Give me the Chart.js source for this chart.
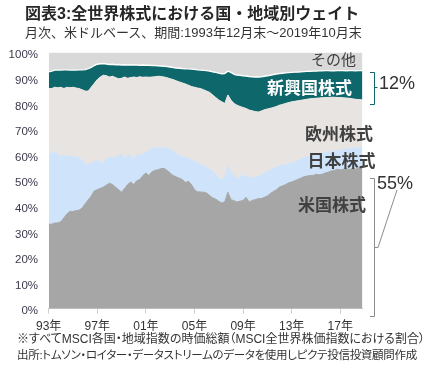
<!DOCTYPE html>
<html><head><meta charset="utf-8">
<script src="https://cdn.jsdelivr.net/npm/chart.js@4"></script>
<style>
html,body{margin:0;padding:0;background:#fff;}
#wrap{position:relative;width:437px;height:379px;overflow:hidden;font-family:"Liberation Sans","Noto Sans CJK JP",sans-serif;color:#333;}
canvas{position:absolute;left:0;top:0;}
.t{position:absolute;white-space:nowrap;}
#title{left:25px;top:6px;font-size:16px;line-height:16px;font-weight:bold;color:#262626;}
#sub{left:25px;top:26px;font-size:13px;line-height:14px;color:#333;}
.note{left:17px;font-size:12px;line-height:12px;font-feature-settings:"palt";color:#333;}
</style></head><body>
<div id="wrap">
<canvas id="c" width="437" height="379"></canvas>
<div class="t" id="title">図表3:全世界株式における国・地域別ウェイト</div>
<div class="t" id="sub">月次、米ドルベース、期間:1993年12月末～2019年10月末</div>
<div class="t note" style="top:333px">※すべてMSCI各国・地域指数の時価総額（MSCI全世界株価指数における割合）</div>
<div class="t note" style="top:349px;font-size:11.5px;letter-spacing:-0.3px">出所:トムソン・ロイター・データストリームのデータを使用しピクテ投信投資顧問作成</div>
</div>
<script>
// months since Dec 1993
const months = [0,3,6,9,12,15,18,21,24,27,30,33,36,39,42,45,48,51,54,57,60,63,66,69,72,75,78,81,84,87,90,93,96,99,102,105,108,111,114,117,120,123,126,129,132,135,138,141,144,147,150,153,156,159,162,165,168,171,174,177,180,183,186,189,192,195,198,201,204,207,210,213,216,219,222,225,228,231,234,237,240,243,246,249,252,255,258,261,264,267,270,273,276,279,282,285,288,291,294,297,300,303,306,309,310];
const seriesNames = ['米国株式','日本株式','欧州株式','新興国株式','その他'];
const usShare = [33,33,33.5,33.5,34,35.5,37,38,38,38.3,38.5,39.3,41,42.5,44,46,46.5,47,47.5,48.3,49,48.5,47.5,46.5,45.5,47,48.5,49.5,48.5,50,50.5,52,53,52,53.5,54,54.3,54.7,54.8,54,53,52,51.5,51,50.5,49.3,49.8,48.5,46.5,45.7,45.6,45.5,45.2,44.2,43.3,42.8,42,41.3,41.8,45.5,42.6,42.2,41.7,42,42.3,43.5,41.7,42.3,42.6,43,43,43.5,44,45,45.8,46.5,47.5,48,48.5,49.2,49.5,50,50.5,51,51.5,51.8,52,52,52.5,52.3,52.5,53,53.3,53.8,54,54.5,54.2,54.5,54.8,54.3,55,54.5,55,55.3,55.5];
const jpShare = [27,28,28,26.5,25.5,24.5,22.5,21.5,21.5,20.7,20.5,18.7,15.5,13.7,13,11.5,11.3,10.5,9.3,10.2,10,10.5,11.8,13,15,11.5,11.5,10,10,10,9.5,8.3,8,9.8,9,8.7,8.7,7.8,8.2,8.7,9.3,9.5,9,8.8,8.8,9.7,8.9,9.5,11,11.1,10.7,10.3,10,10.1,10.5,9.7,9,9.2,9.7,10.3,10.4,10,9.1,9.5,10,8,9.3,9.2,8.6,8.5,9.3,9.5,9.5,9.2,9,8.8,8.3,8,7.8,7.3,7.5,7.3,7.3,7.3,7.5,7.5,7.7,8,7.7,8,8.2,8,8,7.7,7.3,7.2,7.8,7.7,7.5,8.2,7.7,8,8,7.9,7.7];
const euShare = [26,25,25,26.3,27,26,27,26.8,27,27.2,27,27.5,28.5,28.8,29.5,30.5,31.7,33,34.4,32.5,31.5,31.8,31,30.3,29.5,32,30,30.8,32,30.3,30.6,30.1,29.5,28.6,28,27.9,27.8,28.2,27.5,27.5,27.5,28,28.5,28.8,28.9,28.8,28.6,28.8,29,29.4,29.7,29.7,29.8,30.2,29.7,30,30.5,30.3,28.7,27.7,28.5,28,28.7,27.5,26.3,26.7,26.6,25.8,25.8,25.3,24.9,24.7,24.5,24.1,23.8,23.7,23.7,23.8,23.9,24,23.8,23.7,23.4,23.1,22.6,22.5,22.3,22.1,22,22,21.7,21.5,21.2,21.1,21.3,20.8,20.5,20.2,20,19.7,19.3,19.3,18.7,18.4,18.3];
const emShare = [6.5,6.8,6.7,7,6.7,7.3,6.8,6.9,6.8,7,7.3,7.8,8.4,8.8,7.8,7,6,5.2,4.6,4.6,4.9,4.7,5,5.6,5.2,4.8,5.2,5,4.7,4.9,4.5,4.8,4.6,4.7,4.5,4.4,4.1,4.1,4.2,4.4,4.6,4.7,5,5.3,5.6,5.9,6.4,6.8,7,7.1,7.2,7.6,8,8.3,9,9.8,10.5,11,11.7,9.3,10.8,11.4,11.8,12.2,12.4,12.7,13.1,13.3,13.5,13.7,13.4,13.1,13,12.9,12.9,12.7,12.4,12.2,11.9,11.7,11.5,11.4,11.2,11.1,11,10.9,10.7,10.7,10.6,10.6,10.5,10.5,10.5,10.3,10.3,10.5,10.5,10.6,10.6,10.8,11,11.1,11.3,11.4,11.5];
const otherShare = [7.5,7.2,6.8,6.7,6.8,6.7,6.7,6.8,6.7,6.8,6.7,6.7,6.6,6.2,5.7,5,4.5,4.3,4.2,4.4,4.6,4.5,4.7,4.6,4.8,4.7,4.8,4.7,4.8,4.8,4.9,4.8,4.9,4.9,5,5,5.1,5.2,5.3,5.4,5.6,5.8,6,6.1,6.2,6.3,6.3,6.4,6.5,6.7,6.8,6.9,7,7.2,7.5,7.7,8,8.2,8.1,7.2,7.7,8.4,8.7,8.8,9,9.1,9.3,9.4,9.5,9.5,9.4,9.2,9,8.8,8.5,8.3,8.1,8,7.9,7.8,7.7,7.6,7.6,7.5,7.4,7.3,7.3,7.2,7.2,7.1,7.1,7,7,7.1,7.1,7,7,7,7.1,7,7,7.1,7,7,7];
const tickMonths = [0,48,96,144,192,240,288];
const tickLabels = ['93年','97年','01年','05年','09年','13年','17年'];
const yTicks = [0,10,20,30,40,50,60,70,80,90,100];
const bracketLabels = ['12%','55%'];

const FONT = '"Liberation Sans","Noto Sans CJK JP",sans-serif';
const CJK = '"Noto Sans CJK JP",sans-serif';
const toXY = arr => arr.map((v,i)=>({x:months[i], y:v}));
const colors = ['#a6a6a6','#cfe4fb','#e8e4e2','#0e686b','#d9d9d9'];
const values = [usShare,jpShare,euShare,emShare,otherShare];

const datasets = values.map((arr,i)=>({
  label: seriesNames[i],
  data: toXY(arr),
  backgroundColor: colors[i],
  borderColor: i===3 ? '#ffffff' : colors[i],
  borderWidth: i===3 ? 1.4 : 1,
  pointRadius: 0,
  tension: 0,
  fill: i===0 ? 'origin' : '-1'
}));

const annot = {
  id:'annot',
  afterDraw(chart){
    const c = chart.ctx;
    const n = chart.data.datasets.map(d=>d.label);
    c.save();
    c.textAlign='center'; c.textBaseline='middle';
    c.fillStyle='#404040';
    c.font = '15px ' + CJK; c.fillText(n[4],333.5,59.5);
    c.font = 'bold 17px ' + CJK;
    c.fillStyle='#ffffff'; c.fillText(n[3],309.5,88);
    c.fillStyle='#404040';
    c.fillText(n[2],339,133.5);
    c.fillText(n[1],341.5,161);
    c.fillText(n[0],332,205);
    c.lineWidth=1;
    c.strokeStyle='#0e686b';
    c.beginPath();
    c.moveTo(370,72.5); c.lineTo(374.5,72.5); c.lineTo(374.5,104.5); c.lineTo(370,104.5);
    c.moveTo(374.5,87.5); c.lineTo(377.5,87.5);
    c.stroke();
    c.strokeStyle='#8c8c8c';
    c.beginPath();
    c.moveTo(370,178.5); c.lineTo(374.5,178.5); c.lineTo(374.5,316.5); c.lineTo(370,316.5);
    c.moveTo(374.5,247.5); c.lineTo(378,247.5); c.lineTo(397,190);
    c.stroke();
    c.font='18px "Liberation Sans",sans-serif'; c.fillStyle='#333'; c.textAlign='left';
    c.fillText(bracketLabels[0],379,84);
    c.fillText(bracketLabels[1],377,184.5);
    c.restore();
  }
};

new Chart(document.getElementById('c'),{
  type:'line',
  data:{datasets},
  plugins:[annot],
  options:{
    responsive:false,
    animation:false,
    layout:{padding:{left:0,top:52.7,right:74.5,bottom:0}},
    plugins:{legend:{display:false},tooltip:{enabled:false}},
    elements:{line:{borderJoinStyle:'round'}},
    scales:{
      x:{
        type:'linear', min:0, max:310,
        afterBuildTicks: s => { s.ticks = tickMonths.map(v=>({value:v})); },
        ticks:{callback:v=>tickLabels[tickMonths.indexOf(v)], font:{size:12,family:FONT}, color:'#333', padding:6, maxRotation:0, autoSkip:false},
        grid:{drawOnChartArea:false, drawTicks:true, tickLength:5, color:'#cfcfcf'},
        border:{display:true, color:'#cfcfcf'},
        afterFit: s => { s.height = 70.3; }
      },
      y:{
        stacked:true, min:0, max:100,
        afterBuildTicks: s => { s.ticks = yTicks.map(v=>({value:v})); },
        ticks:{callback:v=>v+'%', font:{size:11.5,family:FONT}, color:'#3a3a4c', padding:10.7, labelOffset:2.5},
        grid:{display:false, drawTicks:false},
        border:{display:false},
        afterFit: s => { s.width = 48.7; }
      }
    }
  }
});
</script>
</body></html>
